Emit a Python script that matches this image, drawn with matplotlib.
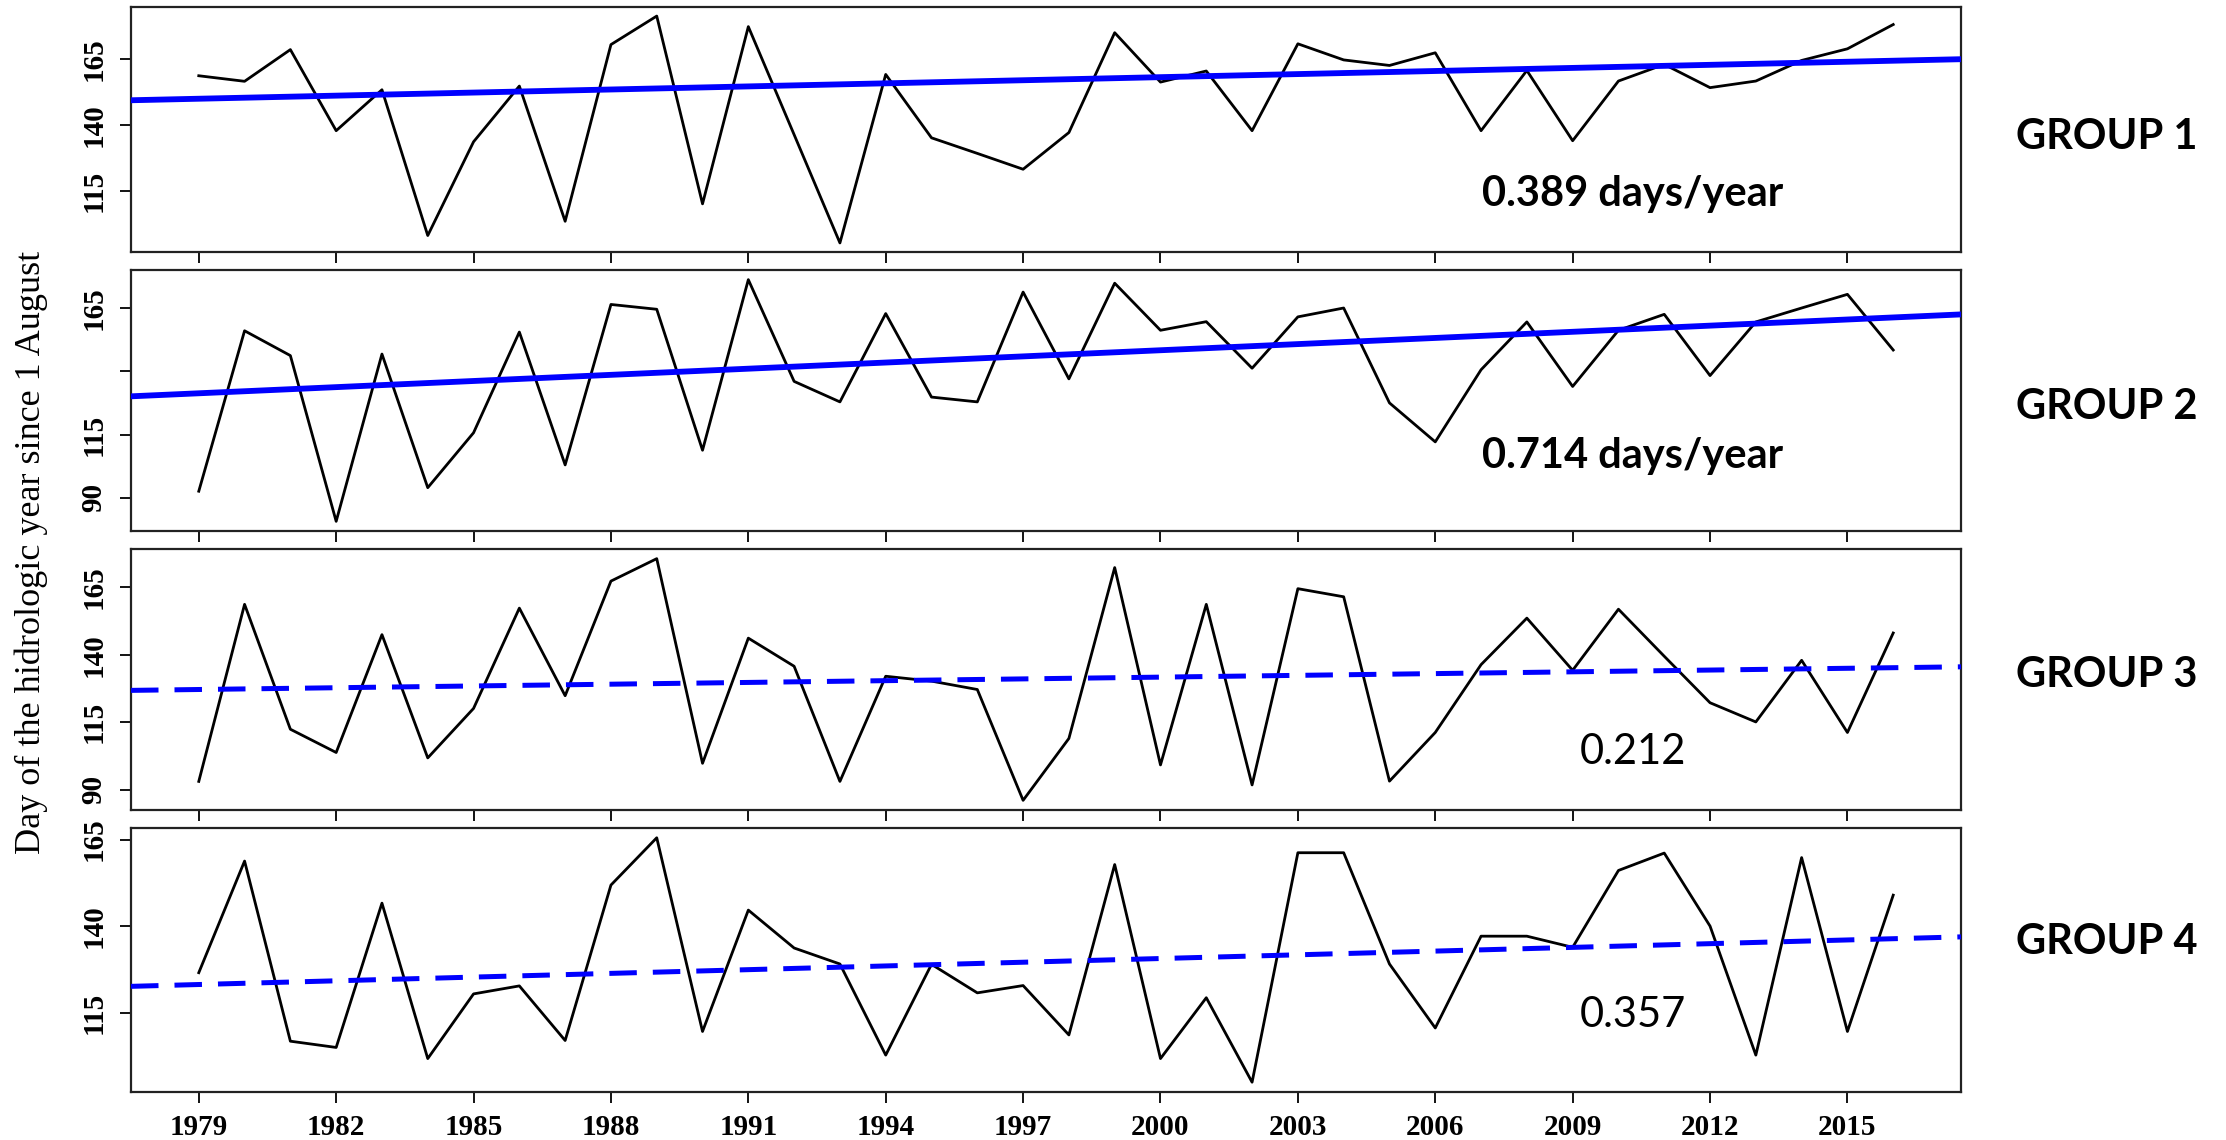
import numpy as np
import matplotlib
matplotlib.use('Agg')
import matplotlib.pyplot as plt

# day of hydrologic year
years = np.arange(1979, 2017)

group1 = [158.7, 156.6, 168.6, 137.9, 153.4, 98.2, 133.7, 154.8, 103.6, 170.5,
          181.3, 110.2, 177.3, 136.4, 95.4, 159.2, 135.2, 129.3, 123.3, 137.2,
          175.0, 156.3, 160.5, 137.9, 170.8, 164.7, 162.6, 167.4, 137.9, 160.7,
          134.1, 156.7, 163.0, 154.2, 156.7, 164.5, 168.9, 178.1]
group2 = [92.6, 156.0, 146.2, 80.7, 146.8, 94.0, 115.7, 155.5, 103.0, 166.4,
          164.5, 108.8, 176.2, 136.0, 127.9, 162.8, 129.8, 127.9, 171.3, 137.0,
          174.8, 156.2, 159.6, 141.2, 161.5, 165.0, 127.5, 112.1, 140.6, 159.5,
          134.0, 156.2, 162.5, 138.3, 159.5, 165.0, 170.4, 148.4]
group3 = [93.1, 158.6, 112.4, 103.8, 147.4, 101.8, 120.1, 157.2, 124.8, 167.2,
          175.5, 99.8, 146.1, 135.7, 93.1, 132.0, 130.2, 127.1, 86.1, 109.0,
          172.2, 99.2, 158.6, 91.8, 164.4, 161.4, 93.2, 111.2, 136.3, 153.5,
          134.2, 156.8, 139.4, 122.2, 115.1, 137.9, 111.2, 148.0]
group4 = [126.7, 158.8, 107.0, 105.2, 146.7, 102.0, 120.6, 122.9, 107.2, 151.9,
          165.5, 109.8, 144.7, 133.8, 129.2, 103.0, 129.1, 120.9, 123.0, 108.8,
          157.8, 102.0, 119.5, 95.2, 161.2, 161.2, 129.2, 110.8, 137.2, 137.2,
          134.0, 156.1, 161.1, 140.1, 103.0, 159.8, 109.8, 149.0]

series = [group1, group2, group3, group4]
group_names = ['GROUP 1', 'GROUP 2', 'GROUP 3', 'GROUP 4']

# trend lines: value at 1979 and slope (days/year)
trend_1979 = [150.0, 131.3, 127.1, 123.3]
trend_slope = [0.389, 0.81, 0.218, 0.356]
trend_dashed = [False, False, True, True]
trend_text = ['0.389 days/year', '0.714 days/year', '0.212', '0.357']
trend_bold = [True, True, False, False]

yticks = [90, 115, 140, 165]
ytick_labels = [['90', '115', '140', '165'],
                ['90', '115', '', '165'],
                ['90', '115', '140', '165'],
                ['90', '115', '140', '165']]
xticks = np.arange(1979, 2016, 3)

W, H = 2226, 1140
fig = plt.figure(figsize=(W / 100, H / 100), dpi=100)

# panel boxes in pixels (top, bottom)
panel_px = [(7, 252), (270, 531), (549, 810), (828, 1092)]
left_px, right_px = 131, 1961
group_y = [137, 407, 675, 942]
note_y = [194, 456, 752, 1015]

tick_font = dict(family='Liberation Serif', weight='bold', size=21)

for i, vals in enumerate(series):
    top, bot = panel_px[i]
    ax = fig.add_axes([left_px / W, 1 - bot / H, (right_px - left_px) / W, (bot - top) / H])
    vals = np.array(vals)
    ax.plot(years, vals, color='black', lw=2.0, zorder=3)

    ax.set_xticks(xticks)
    ax.set_yticks(yticks)
    ax.set_yticklabels(ytick_labels[i], rotation=90, va='center', fontdict=tick_font)
    if i == 3:
        ax.set_xticklabels([str(x) for x in xticks], fontdict=tick_font)
    else:
        ax.set_xticklabels([])

    # R style 4% padding (after ticks, so limits stay put)
    xr = years[-1] - years[0]
    x0, x1 = years[0] - 0.04 * xr, years[-1] + 0.04 * xr
    yr = vals.max() - vals.min()
    ax.set_xlim(x0, x1)
    ax.set_ylim(vals.min() - 0.04 * yr, vals.max() + 0.04 * yr)

    tx = np.array([x0, x1])
    ty = trend_1979[i] + trend_slope[i] * (tx - 1979)
    if trend_dashed[i]:
        ax.plot(tx, ty, color='#0000ff', lw=3.6, dashes=(5.5, 3.2), zorder=4)
    else:
        ax.plot(tx, ty, color='#0000ff', lw=4.2, zorder=4)

    ax.tick_params(axis='both', direction='out', length=8, width=1.3, colors='black')
    ax.tick_params(axis='y', pad=9)
    ax.tick_params(axis='x', pad=8)
    for sp in ax.spines.values():
        sp.set_linewidth(1.6)
        sp.set_color('#222222')

    fig.text(2107 / W, 1 - group_y[i] / H, group_names[i], ha='center', va='center',
             family='Lato', weight='bold', size=30)
    fig.text(1633 / W, 1 - note_y[i] / H, trend_text[i], ha='center', va='center',
             family='Lato', weight='bold' if trend_bold[i] else 'normal', size=30)

fig.text(31 / W, 1 - 552 / H, 'Day of the hidrologic year since 1 August', rotation=90,
         ha='center', va='center', family='Liberation Serif', size=26)

fig.savefig('out.png', dpi=100)
